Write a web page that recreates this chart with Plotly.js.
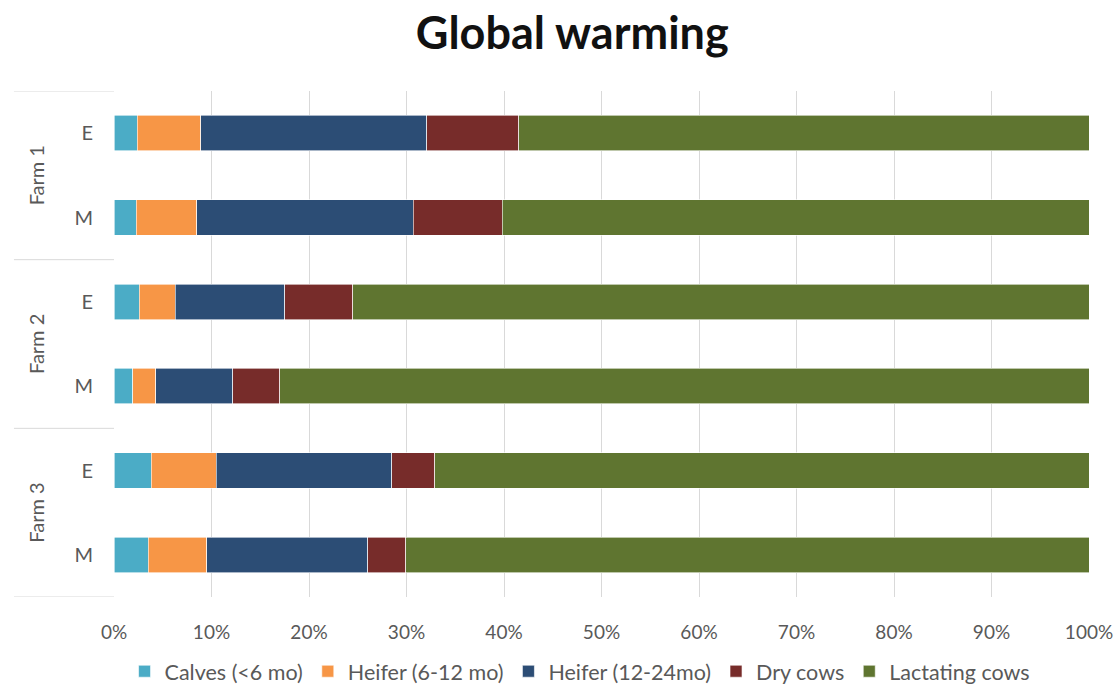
<!DOCTYPE html>
<html>
<head>
<meta charset="utf-8">
<script src="https://cdn.plot.ly/plotly-3.0.1.min.js"></script>
<style>html,body{margin:0;padding:0;background:#fff;}#chart{width:1120px;height:692px;}</style>
</head>
<body>
<div id="chart"></div>
<script>
// Data (percent share of global warming contribution)
const rowKeys   = ['F1E','F1M','F2E','F2M','F3E','F3M'];
const rowLabels = ['E','M','E','M','E','M'];
const farms     = ['Farm 1','Farm 2','Farm 3'];
const seriesNames = ['Calves (<6 mo)','Heifer (6-12 mo)','Heifer (12-24mo)','Dry cows','Lactating cows'];
const calves    = [2.4, 2.3, 2.6, 1.9, 3.8, 3.5];
const heifer612 = [6.5, 6.2, 3.7, 2.4, 6.7, 6.0];
const heifer1224= [23.2, 22.2, 11.2, 7.9, 18.0, 16.5];
const dryCows   = [9.4, 9.1, 7.0, 4.8, 4.4, 3.9];
const lactating = [58.5, 60.2, 75.5, 83.0, 67.1, 70.1];
const xTicks = [0,10,20,30,40,50,60,70,80,90,100];

const colors = ['#4BACC6','#F79646','#2C4D75','#772C2A','#5F7530'];
const allSeries = [calves, heifer612, heifer1224, dryCows, lactating];
const FONT = 'Lato, "Open Sans", sans-serif';

const traces = allSeries.map((vals, i) => ({
  type: 'bar',
  orientation: 'h',
  name: seriesNames[i],
  x: vals,
  y: rowKeys,
  marker: {color: colors[i], line: {color: '#ffffff', width: 0.6}},
  hoverinfo: 'x+name'
}));

const dividerPos = [-0.5, 1.5, 3.5, 5.5];
const shapes = dividerPos.map(p => ({
  type: 'line', xref: 'paper', yref: 'y',
  x0: -0.1026, x1: 0, y0: p, y1: p,
  line: {color: '#d9d9d9', width: 1}
}));

const annotations = farms.map((f, i) => ({
  xref: 'paper', yref: 'y', x: -0.08, y: 2*i + 0.5,
  text: f, showarrow: false, textangle: -90,
  font: {family: FONT, size: 20, color: '#595959'},
  xanchor: 'center', yanchor: 'middle'
}));

const layout = {
  width: 1120, height: 692,
  paper_bgcolor: '#ffffff', plot_bgcolor: '#ffffff',
  margin: {l: 114, r: 31, t: 91, b: 95, autoexpand: false},
  barmode: 'stack',
  bargap: 0.58,
  title: {
    text: '<b>Global warming</b>',
    x: 0.511, xanchor: 'center', y: 0.952, yanchor: 'middle',
    font: {family: FONT, size: 45, color: '#111111'}
  },
  xaxis: {
    range: [0, 100],
    tickmode: 'array', tickvals: xTicks, ticktext: xTicks.map(v => v + '%'),
    showgrid: true, gridcolor: '#d9d9d9', gridwidth: 1,
    zeroline: false, showline: false, ticks: '',
    ticklabelstandoff: 22,
    tickfont: {family: FONT, size: 19, color: '#595959'},
    automargin: false,
    fixedrange: true
  },
  yaxis: {
    type: 'category',
    range: [5.5, -0.5],
    tickmode: 'array', tickvals: rowKeys, ticktext: rowLabels,
    showgrid: false, zeroline: false, showline: false, ticks: '',
    ticklabelstandoff: 20,
    tickfont: {family: FONT, size: 20, color: '#595959'},
    automargin: false,
    fixedrange: true
  },
  shapes: shapes,
  annotations: annotations,
  showlegend: true,
  legend: {
    orientation: 'h', xref: 'paper', x: 0.478, xanchor: 'center',
    yref: 'container', y: 0.03, yanchor: 'middle',
    traceorder: 'normal',
    font: {family: FONT, size: 21.5, color: '#595959'},
    itemwidth: 30
  }
};

Plotly.newPlot('chart', traces, layout, {displayModeBar: false, staticPlot: true});
</script>
</body>
</html>
